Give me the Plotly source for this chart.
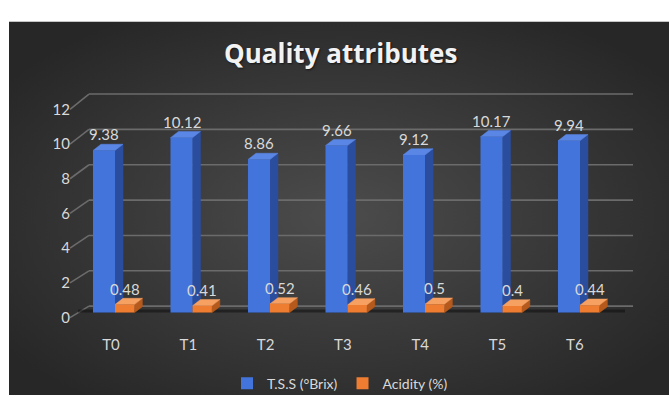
import base64
import plotly.graph_objects as go

# ---------------- data ----------------
categories = ["T0", "T1", "T2", "T3", "T4", "T5", "T6"]
tss = [9.38, 10.12, 8.86, 9.66, 9.12, 10.17, 9.94]
acidity = [0.48, 0.41, 0.52, 0.46, 0.5, 0.4, 0.44]
series_names = ["T.S.S (°Brix)", "Acidity (%)"]
y_ticks = [0, 2, 4, 6, 8, 10, 12]
chart_title = "Quality attributes"

# ---------------- geometry / style ----------------
W, H = 669, 403


def px(x):
    return x / W


def py(y):
    return 1 - y / H


CAT_PX = 77.5          # pixels per category on the bar plane
BAR0_PX = 115          # pixel x of category 0 on the bar plane
BAR_Y0, BAR_PPU = 317, 18.12
LAB_X0, LAB_CAT = 111, 77.3
LAB_Y0, LAB_PPU = 322, 18.17
BACK_Y0, BACK_PPU = 310, 18.5
BACK_X0, BACK_X1 = 89, 633
DIAG_X0 = 70

DX = 8 / CAT_PX        # depth in data units
DY = 6.5 / BAR_PPU

series_geom = [dict(off=-0.284, wid=0.284), dict(off=0.0, wid=0.25)]
front_cols = ["#4274dc", "#ee7d31"]
top_cols = ["#5a87e6", "#f6a062"]
side_cols = ["#2b4d9e", "#b55a1c"]
label_col = "#d9d9d9"
grid_col = "#6b6b6b"

fig = go.Figure()

# dummy trace so label-plane axes exist
fig.add_trace(go.Scatter(x=[], y=[], xaxis="x", yaxis="y", showlegend=False, hoverinfo="skip"))

# 3-D faces (side + top) on the bar plane
all_series = [tss, acidity]
for s, values in enumerate(all_series):
    g = series_geom[s]
    sx, sy, tx, ty = [], [], [], []
    for i, v in enumerate(values):
        x0 = i + g["off"]
        x1 = x0 + g["wid"]
        sx += [x1, x1 + DX, x1 + DX, x1, x1, None]
        sy += [0, DY, v + DY, v, 0, None]
        tx += [x0, x1, x1 + DX, x0 + DX, x0, None]
        ty += [v, v, v + DY, v + DY, v, None]
    fig.add_trace(go.Scatter(x=sx, y=sy, xaxis="x2", yaxis="y2", mode="lines", fill="toself",
                             fillcolor=side_cols[s], line=dict(width=0.5, color=side_cols[s]),
                             showlegend=False, hoverinfo="skip"))
    fig.add_trace(go.Scatter(x=tx, y=ty, xaxis="x2", yaxis="y2", mode="lines", fill="toself",
                             fillcolor=top_cols[s], line=dict(width=0.5, color=top_cols[s]),
                             showlegend=False, hoverinfo="skip"))

# front faces: real bars on an overlaying subplot
for s, values in enumerate(all_series):
    g = series_geom[s]
    fig.add_trace(go.Bar(x=list(range(len(categories))), y=values, name=series_names[s],
                         xaxis="x3", yaxis="y3", offset=g["off"], width=g["wid"],
                         marker=dict(color=front_cols[s], line=dict(width=0))))

# data labels
annotations = []
for s, values in enumerate(all_series):
    g = series_geom[s]
    for i, v in enumerate(values):
        annotations.append(dict(x=i + g["off"] + g["wid"] / 2, y=v, xref="x2", yref="y2",
                                text=str(v), showarrow=False, yshift=16,
                                font=dict(family="Lato", size=15, color=label_col)))

annotations.append(dict(x=px(340.5), y=py(45), xref="paper", yref="paper", text=chart_title,
                        showarrow=False, xanchor="center", yanchor="middle",
                        font=dict(family="Open Sans", size=26, weight=700, color="#f2f2f2",
                                  shadow="1px 1px 2px rgba(0,0,0,0.6)")))

# back wall gridlines and left wall diagonals
shapes = []
for t in y_ticks:
    yb = BACK_Y0 - t * BACK_PPU
    yl = LAB_Y0 - t * LAB_PPU
    shapes.append(dict(type="line", xref="paper", yref="paper", x0=px(BACK_X0), x1=px(BACK_X1),
                       y0=py(yb), y1=py(yb), line=dict(color=grid_col, width=1.6), layer="below"))
    shapes.append(dict(type="line", xref="paper", yref="paper", x0=px(DIAG_X0), x1=px(BACK_X0),
                       y0=py(yl), y1=py(yb), line=dict(color=grid_col, width=1.6), layer="below"))
# floor shadow
shapes.append(dict(type="line", xref="paper", yref="paper", x0=px(78), x1=px(625),
                   y0=py(315), y1=py(315), line=dict(color="rgba(15,15,15,0.55)", width=3),
                   layer="below"))

# background radial gradient
svg = ("<svg xmlns='http://www.w3.org/2000/svg' width='660' height='391' viewBox='0 0 660 391' "
       "preserveAspectRatio='none'><defs><radialGradient id='g' cx='50%' cy='52%' r='62%'>"
       "<stop offset='0' stop-color='#4c4c4c'/><stop offset='1' stop-color='#272727'/>"
       "</radialGradient></defs><rect width='660' height='391' fill='url(#g)'/></svg>")
src = "data:image/svg+xml;base64," + base64.b64encode(svg.encode()).decode()

n = len(categories)
fig.update_layout(
    width=W, height=H,
    margin=dict(l=0, r=0, t=0, b=0),
    paper_bgcolor="white", plot_bgcolor="rgba(0,0,0,0)",
    font=dict(family="Lato", size=14, color=label_col),
    barmode="overlay",
    images=[dict(source=src, xref="paper", yref="paper", x=px(9), y=py(12),
                 sizex=660 / W, sizey=391 / H, sizing="stretch", layer="below",
                 xanchor="left", yanchor="top")],
    shapes=shapes,
    annotations=annotations,
    xaxis=dict(domain=[px(LAB_X0 - LAB_CAT / 2), px(LAB_X0 + (n - 0.5) * LAB_CAT)],
               range=[-0.5, n - 0.5], tickvals=list(range(n)), ticktext=categories,
               showgrid=False, zeroline=False, showline=False, ticks="", anchor="y",
               ticklabelstandoff=16, tickfont=dict(family="Lato", size=15, color=label_col),
               fixedrange=True),
    yaxis=dict(domain=[py(LAB_Y0), py(LAB_Y0 - 12 * LAB_PPU)], range=[0, 12],
               tickvals=y_ticks, showgrid=False, zeroline=False, showline=False, ticks="",
               anchor="free", position=px(70), tickfont=dict(family="Lato", size=15, color=label_col),
               fixedrange=True),
    xaxis2=dict(domain=[px(BAR0_PX - CAT_PX / 2), px(BAR0_PX + (n - 0.5) * CAT_PX)],
                range=[-0.5, n - 0.5], visible=False, anchor="y2", fixedrange=True),
    yaxis2=dict(domain=[py(BAR_Y0), py(BAR_Y0 - 12 * BAR_PPU)], range=[0, 12],
                visible=False, anchor="x2", fixedrange=True),
    xaxis3=dict(overlaying="x2", range=[-0.5, n - 0.5], visible=False, anchor="y3", fixedrange=True),
    yaxis3=dict(overlaying="y2", range=[0, 12], visible=False, anchor="x3", fixedrange=True),
    legend=dict(orientation="h", x=px(340), y=py(391), xanchor="center", yanchor="middle",
                bgcolor="rgba(0,0,0,0)", font=dict(family="Lato", size=14, color=label_col),
                itemwidth=30),
)

fig.write_html("out.html")
